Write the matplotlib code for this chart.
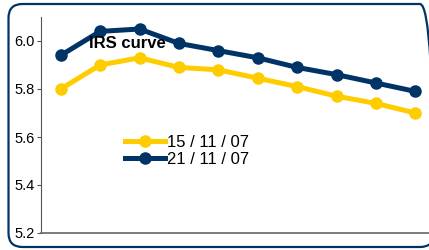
import matplotlib.pyplot as plt
from matplotlib.patches import FancyBboxPatch

# tenors on the x axis (unlabelled in the original)
tenors = list(range(10))
rates_15_11 = [5.80, 5.90, 5.93, 5.89, 5.88, 5.845, 5.81, 5.77, 5.74, 5.70]
rates_21_11 = [5.94, 6.04, 6.05, 5.99, 5.96, 5.93, 5.89, 5.86, 5.825, 5.79]
series_labels = ['15 / 11 / 07', '21 / 11 / 07']
yticks = [5.2, 5.4, 5.6, 5.8, 6.0]

yellow = '#FFCC00'
navy = '#003366'

plt.rcParams['font.family'] = ['Liberation Sans', 'DejaVu Sans']

fig = plt.figure(figsize=(4.29, 2.5), dpi=100)

# rounded frame around the chart, in inches; right side runs off the image
frame = FancyBboxPatch((0.085, 0.03), 4.255, 2.43,
                       boxstyle='round,pad=0,rounding_size=0.14',
                       transform=fig.dpi_scale_trans, fill=False,
                       edgecolor=navy, linewidth=1.6)
fig.patches.append(frame)

ax = fig.add_axes([41 / 429, 17 / 250, 394 / 429, 216 / 250])
ax.plot(tenors, rates_15_11, color=yellow, lw=3.6, marker='o', ms=8,
        label=series_labels[0])
ax.plot(tenors, rates_21_11, color=navy, lw=3.6, marker='o', ms=8,
        label=series_labels[1])

ax.set_xlim(-0.5, 9.5)
ax.set_ylim(5.2, 6.1)
ax.set_yticks(yticks)
ax.set_yticklabels([f'{v:.1f}' for v in yticks], fontsize=10.5)
ax.set_xticks([])
ax.tick_params(axis='y', length=3, width=0.8, color='#555555', pad=1.5)
for s in ['top', 'right']:
    ax.spines[s].set_visible(False)
ax.spines['left'].set_color('#555555')
ax.spines['bottom'].set_color('#666666')
ax.spines['left'].set_linewidth(0.8)
ax.spines['bottom'].set_linewidth(1.2)

ax.text(1.7, 5.99, 'IRS curve', fontsize=12, fontweight='bold',
        ha='center', va='center')

ax.legend(loc='upper left', bbox_to_anchor=(125 / 429, 1 - 135 / 250),
          bbox_transform=fig.transFigure, frameon=False,
          fontsize=12, handlelength=2.4, handletextpad=0.1,
          labelspacing=0.12, borderpad=0, borderaxespad=0)

fig.savefig('out.png', dpi=100)
